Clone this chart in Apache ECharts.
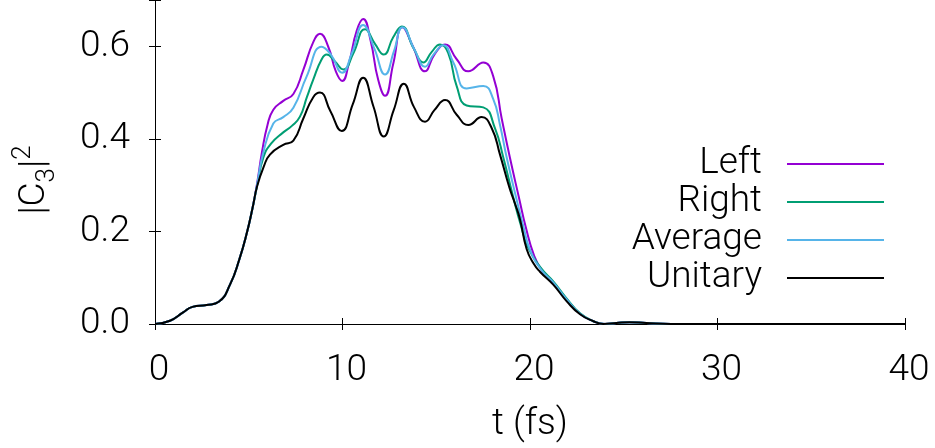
<!DOCTYPE html>
<html>
<head>
<meta charset="utf-8">
<script src="https://cdn.jsdelivr.net/npm/echarts@6/dist/echarts.min.js"></script>
<style>
  html, body { margin: 0; padding: 0; background: #fff; }
  #chart { width: 935px; height: 448px; }
</style>
</head>
<body>
<div id="chart"></div>
<script>
// series names in legend order
var seriesNames = ["Left", "Right", "Average", "Unitary"];
var seriesColors = ["#9400d3", "#009e73", "#56b4e9", "#000000"];

// [t (fs), |C3|^2]
var riseData = [
  [0, 0], [0.8, 0.007], [1.5, 0.025], [2.0, 0.037], [2.75, 0.041],
  [3.4, 0.048], [4.0, 0.085], [4.5, 0.14], [4.9, 0.197], [5.2, 0.25]
];
var tailData = [[24.6, 0.002], [25.3, 0.004], [26.2, 0.002], [27.5, 0.0], [40, 0.0]];

var leftData = [
  [5.45, 0.305], [5.7, 0.37], [6.0, 0.43], [6.31, 0.463], [6.84, 0.482], [7.38, 0.497],
  [7.91, 0.549], [8.44, 0.609], [8.8, 0.627], [9.24, 0.599], [9.65, 0.545],
  [9.98, 0.525], [10.35, 0.565], [10.76, 0.634], [11.1, 0.659], [11.5, 0.612],
  [11.9, 0.528], [12.27, 0.493], [12.71, 0.563], [13.2, 0.641], [13.75, 0.6],
  [14.4, 0.546], [14.9, 0.582], [15.47, 0.604], [16.09, 0.572], [16.71, 0.546],
  [17.51, 0.565], [18.04, 0.535], [18.49, 0.444], [18.93, 0.359], [19.4, 0.275],
  [19.8, 0.205], [20.2, 0.15], [20.6, 0.118], [21.24, 0.09], [21.96, 0.053],
  [22.67, 0.022], [23.38, 0.006], [24.0, 0.0]
];
var rightData = [
  [5.45, 0.30], [5.78, 0.36], [6.2, 0.39], [6.84, 0.414], [7.3, 0.428], [7.73, 0.448],
  [8.1, 0.49], [8.44, 0.528], [8.89, 0.572], [9.16, 0.582], [9.6, 0.567],
  [10.04, 0.550], [10.58, 0.585], [11.2, 0.637], [11.75, 0.604], [12.2, 0.582],
  [12.71, 0.620], [13.16, 0.643], [13.8, 0.595], [14.31, 0.565], [14.76, 0.588],
  [15.2, 0.604], [15.64, 0.585], [16.09, 0.514], [16.62, 0.472], [17.51, 0.468],
  [18.13, 0.423], [18.58, 0.359], [19.1, 0.275], [19.5, 0.215], [19.9, 0.165],
  [20.6, 0.12], [21.24, 0.092], [21.96, 0.055], [22.67, 0.023], [23.38, 0.006], [24.0, 0.0]
];
var averageData = [
  [5.45, 0.302], [5.75, 0.366], [6.31, 0.433], [6.84, 0.447], [7.38, 0.467],
  [8.09, 0.535], [8.89, 0.599], [9.38, 0.582], [9.98, 0.543], [10.5, 0.585],
  [11.1, 0.646], [11.7, 0.595], [12.27, 0.539], [12.75, 0.59], [13.2, 0.641],
  [13.85, 0.592], [14.4, 0.556], [14.85, 0.582], [15.38, 0.602], [15.91, 0.565],
  [16.62, 0.509], [17.51, 0.514], [18.04, 0.486], [18.4, 0.430], [18.76, 0.359],
  [19.25, 0.275], [19.65, 0.21], [20.0, 0.16], [20.6, 0.117], [21.24, 0.09],
  [21.96, 0.053], [22.67, 0.022], [23.38, 0.006], [24.0, 0.0]
];
var unitaryData = [
  [5.45, 0.298], [5.8, 0.34], [6.13, 0.366], [6.84, 0.387], [7.38, 0.396],
  [7.91, 0.444], [8.44, 0.490], [8.8, 0.500], [9.35, 0.46], [9.96, 0.417],
  [10.55, 0.475], [11.1, 0.532], [11.65, 0.47], [12.2, 0.405], [12.73, 0.462],
  [13.27, 0.519], [13.82, 0.468], [14.4, 0.437], [14.9, 0.462], [15.47, 0.484],
  [16.09, 0.452], [16.71, 0.430], [17.42, 0.447], [17.96, 0.423], [18.4, 0.366],
  [18.9, 0.295], [19.2, 0.26], [19.47, 0.226], [19.82, 0.162], [20.2, 0.13],
  [20.53, 0.113], [21.24, 0.085], [21.96, 0.049], [22.67, 0.021], [23.38, 0.006], [23.9, 0.0]
];

var xTicks = { min: 0, max: 40, interval: 10 };
var yTicks = { min: 0, max: 0.7, interval: 0.2 };

var font = "Roboto";
var fs = 37;

function build(mid) {
  return riseData.concat(mid, tailData);
}

var chart = echarts.init(document.getElementById("chart"), null, { renderer: "canvas" });
chart.setOption({
  backgroundColor: "#fff",
  animation: false,
  textStyle: { fontFamily: font, fontWeight: 300 },
  grid: { left: 155, right: 30, top: -1, bottom: 118 },
  legend: {
    orient: "vertical",
    right: 46,
    top: 140,
    align: "right",
    icon: "rect",
    itemWidth: 97,
    itemHeight: 2,
    itemGap: 0,
    data: seriesNames,
    textStyle: { fontFamily: font, fontWeight: 300, fontSize: fs, color: "#000", padding: [0, 20, 0, 0], lineHeight: 38 }
  },
  xAxis: [
    {
      type: "value",
      min: xTicks.min, max: xTicks.max, interval: xTicks.interval,
      name: "t (fs)",
      nameLocation: "middle",
      nameGap: 82,
      nameTextStyle: { fontFamily: font, fontWeight: 300, fontSize: fs, color: "#000" },
      axisLine: { show: true, lineStyle: { color: "#000", width: 1 } },
      axisTick: { show: true, inside: true, length: 6, lineStyle: { color: "#000" } },
      axisLabel: { fontFamily: font, fontWeight: 300, fontSize: fs, color: "#000", margin: 28, padding: [0, 0, 0, 8] },
      splitLine: { show: false }
    },
    {
      type: "value", position: "top",
      min: xTicks.min, max: xTicks.max, interval: xTicks.interval,
      axisLine: { show: true, lineStyle: { color: "#000", width: 1 } },
      axisTick: { show: true, inside: true, length: 6, lineStyle: { color: "#000" } },
      axisLabel: { show: false },
      splitLine: { show: false }
    }
  ],
  yAxis: [
    {
      type: "value",
      min: yTicks.min, max: yTicks.max, interval: yTicks.interval,
      name: "{a||C}{sub|3}{a||}{sup|2}{gap| }",
      nameLocation: "middle",
      nameGap: 95,
      nameRotate: 90,
      nameTextStyle: {
        fontFamily: font, fontWeight: 300, fontSize: fs, color: "#000",
        rich: {
          a: { fontFamily: font, fontWeight: 300, fontSize: fs, color: "#000", lineHeight: 50 },
          sub: { fontFamily: font, fontWeight: 300, fontSize: 26, color: "#000", verticalAlign: "bottom", lineHeight: 24 },
          sup: { fontFamily: font, fontWeight: 300, fontSize: 26, color: "#000", verticalAlign: "top", lineHeight: 10 },
          gap: { width: 36, fontSize: 10 }
        }
      },
      axisLine: { show: true, lineStyle: { color: "#000", width: 1 } },
      axisTick: { show: true, inside: true, length: 6, lineStyle: { color: "#000" } },
      axisLabel: {
        fontFamily: font, fontWeight: 300, fontSize: fs, color: "#000", margin: 25,
        formatter: function (v) { return v > 0.65 ? "" : v.toFixed(1); }
      },
      splitLine: { show: false }
    },
    {
      type: "value", position: "right",
      min: yTicks.min, max: yTicks.max, interval: yTicks.interval,
      axisLine: { show: true, lineStyle: { color: "#000", width: 1 } },
      axisTick: { show: true, inside: true, length: 6, lineStyle: { color: "#000" } },
      axisLabel: { show: false },
      splitLine: { show: false }
    }
  ],
  series: [leftData, rightData, averageData, unitaryData].map(function (d, i) {
    return {
      name: seriesNames[i],
      type: "line",
      data: build(d),
      smooth: 0.5,
      showSymbol: false,
      symbol: "none",
      color: seriesColors[i],
      lineStyle: { color: seriesColors[i], width: 2 }
    };
  })
});
</script>
</body>
</html>
